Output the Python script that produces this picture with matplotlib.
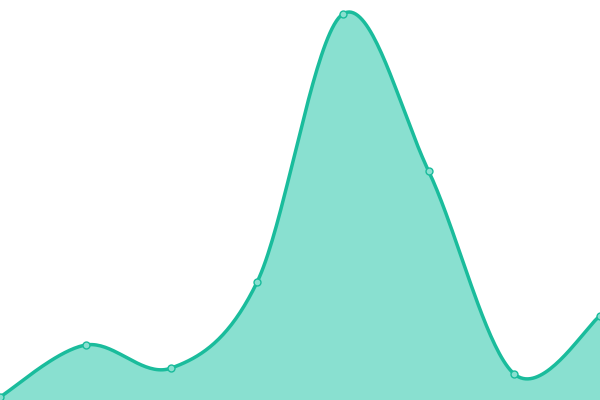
import numpy as np
import matplotlib
matplotlib.use("Agg")
from matplotlib import pyplot as plt

# values (0 = bottom edge, 400 = top edge)
puntos = [0, 1, 2, 3, 4, 5, 6, 7]
valores = [3, 55, 32, 118, 386, 229, 26, 84]

linea = "#1abc9c"
relleno = "#89e0d0"


def catmull_rom(xs, ys, pasos=40):
    xs = np.asarray(xs, dtype=float)
    ys = np.asarray(ys, dtype=float)
    px = np.concatenate([[xs[0]], xs, [xs[-1]]])
    py = np.concatenate([[ys[0]], ys, [ys[-1]]])
    sx, sy = [], []
    for i in range(1, len(px) - 2):
        t = np.linspace(0, 1, pasos, endpoint=False)
        t2, t3 = t * t, t * t * t
        for p, out in ((px, sx), (py, sy)):
            p0, p1, p2, p3 = p[i - 1], p[i], p[i + 1], p[i + 2]
            out.extend(0.5 * (2 * p1 + (-p0 + p2) * t
                              + (2 * p0 - 5 * p1 + 4 * p2 - p3) * t2
                              + (-p0 + 3 * p1 - 3 * p2 + p3) * t3))
    sx.append(xs[-1])
    sy.append(ys[-1])
    return np.array(sx), np.array(sy)


cx, cy = catmull_rom(puntos, valores)

fig = plt.figure(figsize=(6, 4), dpi=100)
ax = fig.add_axes([0, 0, 1, 1])
ax.fill_between(cx, cy, 0, color=relleno, linewidth=0)
ax.plot(cx, cy, color=linea, linewidth=2.5, solid_capstyle="round")
ax.plot(puntos, valores, "o", markersize=5, markerfacecolor=relleno,
        markeredgecolor=linea, markeredgewidth=1)
ax.set_xlim(0, 7)
ax.set_ylim(0, 400)
ax.axis("off")
fig.savefig("out.png", dpi=100)
